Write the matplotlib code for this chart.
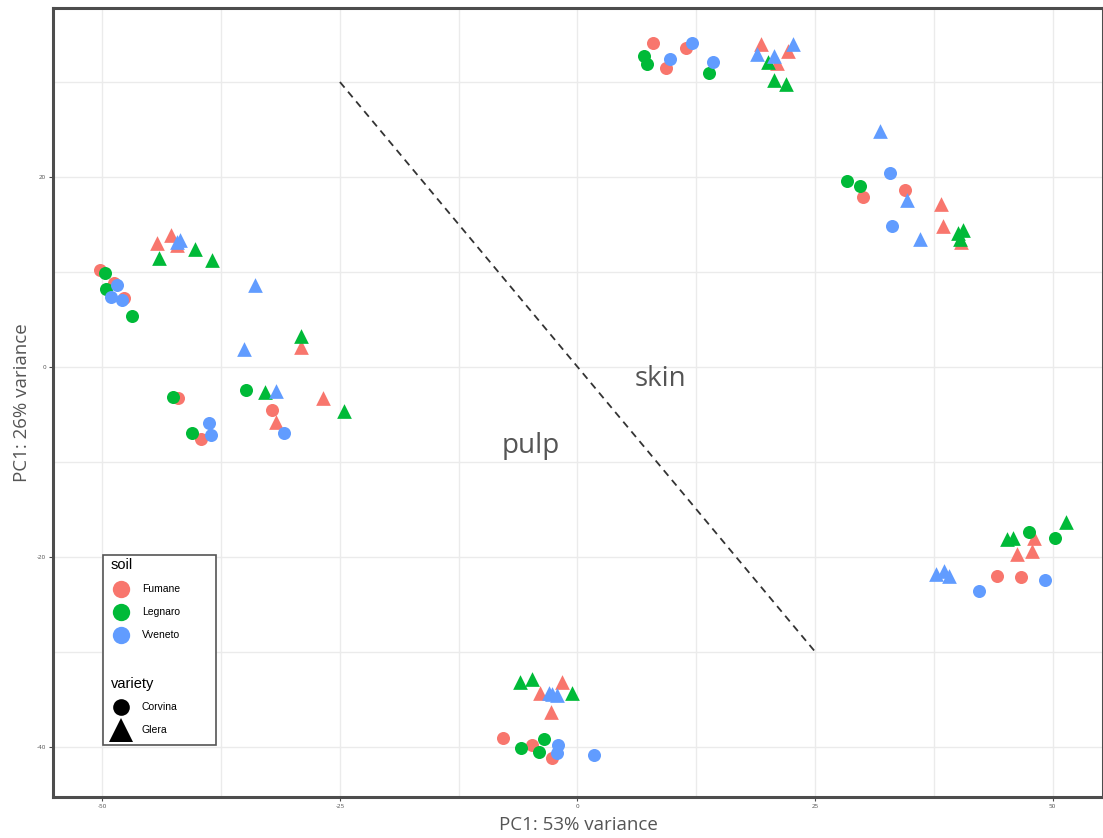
import matplotlib
matplotlib.use("Agg")
import matplotlib.pyplot as plt
from matplotlib.patches import Rectangle
from matplotlib.lines import Line2D

# PCA scores per sample
pc1 = [
    # Corvina
    -50.2, -48.8, -47.7, -42.0, -32.2, -39.6, -7.8, -4.8, -2.7, 7.9, 9.3, 11.4, 30.0, 34.5, 44.1, 46.7,
    -49.7, -49.6, -46.9, -42.6, -34.9, -40.6, -5.9, -3.5, -4.0, 7.0, 7.3, 13.8, 28.4, 29.7, 47.5, 50.2,
    -48.5, -49.1, -47.9, -30.9, -38.8, -38.6, -2.1, -2.2, 1.7, 9.7, 12.0, 14.3, 32.9, 33.1, 49.2, 42.2,
    # Glera
    -44.2, -42.8, -42.1, -29.1, -26.8, -31.7, -1.6, -3.9, -2.8, 19.3, 21.0, 22.2, 38.2, 38.5, 40.4, 48.0, 46.3, 47.8,
    -44.0, -40.3, -38.5, -29.1, -32.9, -24.6, -6.1, -4.8, -0.6, 20.0, 20.7, 21.9, 40.0, 40.6, 40.2, 51.4, 45.2, 45.8,
    -41.8, -42.1, -33.9, -35.1, -31.7, -3.0, -2.7, -2.2, 18.9, 20.7, 22.7, 31.8, 34.7, 36.0, 37.7, 38.6, 39.1,
]
pc2 = [
    10.2, 8.8, 7.2, -3.3, -4.5, -7.6, -39.1, -39.8, -41.2, 34.1, 31.5, 33.6, 17.9, 18.6, -22.0, -22.1,
    9.9, 8.2, 5.4, -3.2, -2.4, -7.0, -40.1, -39.2, -40.6, 32.7, 31.9, 31.0, 19.6, 19.1, -17.4, -18.0,
    8.6, 7.4, 7.05, -7.0, -5.9, -7.2, -39.8, -40.7, -40.9, 32.4, 34.1, 32.1, 20.4, 14.8, -22.5, -23.6,
    13.0, 13.9, 12.8, 2.1, -3.3, -5.8, -33.2, -34.4, -36.4, 34.0, 32.0, 33.3, 17.1, 14.8, 13.1, -18.0, -19.7, -19.4,
    11.5, 12.4, 11.3, 3.3, -2.7, -4.7, -33.2, -32.9, -34.4, 32.1, 30.2, 29.8, 14.1, 14.4, 13.5, -16.3, -18.1, -18.0,
    13.4, 13.1, 8.6, 1.9, -2.5, -34.4, -34.5, -34.6, 33.0, 32.7, 34.0, 24.8, 17.6, 13.5, -21.8, -21.5, -22.0,
]
soil = (["Fumane"] * 16 + ["Legnaro"] * 16 + ["Vveneto"] * 16
        + ["Fumane"] * 18 + ["Legnaro"] * 18 + ["Vveneto"] * 17)
variety = ["Corvina"] * 48 + ["Glera"] * 53

soil_levels = ["Fumane", "Legnaro", "Vveneto"]
variety_levels = ["Corvina", "Glera"]
soil_colors = {"Fumane": "#F8766D", "Legnaro": "#00BA38", "Vveneto": "#619CFF"}
variety_markers = {"Corvina": "o", "Glera": "^"}
variety_sizes = {"Corvina": 88, "Glera": 112}

x_ticks = [-50, -25, 0, 25, 50]
y_ticks = [-40, -20, 0, 20]
divider_x = [-25, 25]
divider_y = [30, -30]

plt.rcParams["font.family"] = ["Open Sans", "DejaVu Sans"]
fig = plt.figure(figsize=(11.03, 8.38), dpi=100)
ax = fig.add_axes([0.048, 0.049, 0.952, 0.9415])

ax.set_xlim(-55.2, 55.3)
ax.set_ylim(-45.3, 37.8)

# grid: major and midway minor lines
for v in [-50, -37.5, -25, -12.5, 0, 12.5, 25, 37.5, 50]:
    ax.axvline(v, color="#ebebeb", lw=1.0, zorder=0)
for v in [-40, -30, -20, -10, 0, 10, 20, 30]:
    ax.axhline(v, color="#ebebeb", lw=1.0, zorder=0)

for s in soil_levels:
    for v in variety_levels:
        xs = [x for x, so, va in zip(pc1, soil, variety) if so == s and va == v]
        ys = [y for y, so, va in zip(pc2, soil, variety) if so == s and va == v]
        ax.scatter(xs, ys, s=variety_sizes[v], marker=variety_markers[v],
                   color=soil_colors[s], linewidths=0, zorder=3)

ax.plot(divider_x, divider_y, ls=(0, (4, 3)), color="#333333", lw=1.3, zorder=2)
ax.text(8.7, -1.3, "skin", fontsize=20, color="#555555", ha="center", va="center")
ax.text(-4.9, -8.3, "pulp", fontsize=20, color="#555555", ha="center", va="center")

ax.set_xticks(x_ticks)
ax.set_yticks(y_ticks)
ax.set_xticklabels([str(t) for t in x_ticks])
ax.set_yticklabels([str(t) for t in y_ticks])
ax.tick_params(labelsize=4.5, colors="#4d4d4d", length=3, width=0.8, pad=2)
for sp in ax.spines.values():
    sp.set_color("#4d4d4d")
    sp.set_linewidth(2.2)

ax.set_xlabel("PC1: 53% variance", fontsize=13.5, color="#555555", labelpad=5)
ax.set_ylabel("PC1: 26% variance", fontsize=13.5, color="#555555", labelpad=4)

# legend box
def px(x):
    return (x - 53) / 1050

def py(y):
    return (797 - y) / 789

ax.add_patch(Rectangle((px(103), py(745)), px(216) - px(103), py(555) - py(745),
                       transform=ax.transAxes, facecolor="white", edgecolor="#555555",
                       lw=1.2, zorder=5))

ax.text(px(111), py(565), "soil", transform=ax.transAxes, fontsize=10.5,
        ha="left", va="center", zorder=6, family=["Liberation Sans", "DejaVu Sans"])
for i, s in enumerate(soil_levels):
    yy = py(589 + 23 * i)
    ax.add_line(Line2D([px(121)], [yy], transform=ax.transAxes, marker="o", markersize=12.5,
                       color=soil_colors[s], markeredgewidth=0, zorder=6))
    ax.text(px(142), yy, s, transform=ax.transAxes, fontsize=7.5, ha="left", va="center",
            zorder=6, family=["Liberation Sans", "DejaVu Sans"])
ax.text(px(111), py(684), "variety", transform=ax.transAxes, fontsize=10.5,
        ha="left", va="center", zorder=6, family=["Liberation Sans", "DejaVu Sans"])
for i, v in enumerate(variety_levels):
    yy = py(707 + 23 * i)
    ax.add_line(Line2D([px(121)], [yy], transform=ax.transAxes, marker=variety_markers[v],
                       markersize=12 if v == "Corvina" else 17, color="black",
                       markeredgewidth=0, zorder=6))
    ax.text(px(142), yy, v, transform=ax.transAxes, fontsize=7.5, ha="left", va="center",
            zorder=6, family=["Liberation Sans", "DejaVu Sans"])

fig.savefig("out.png", dpi=100)
